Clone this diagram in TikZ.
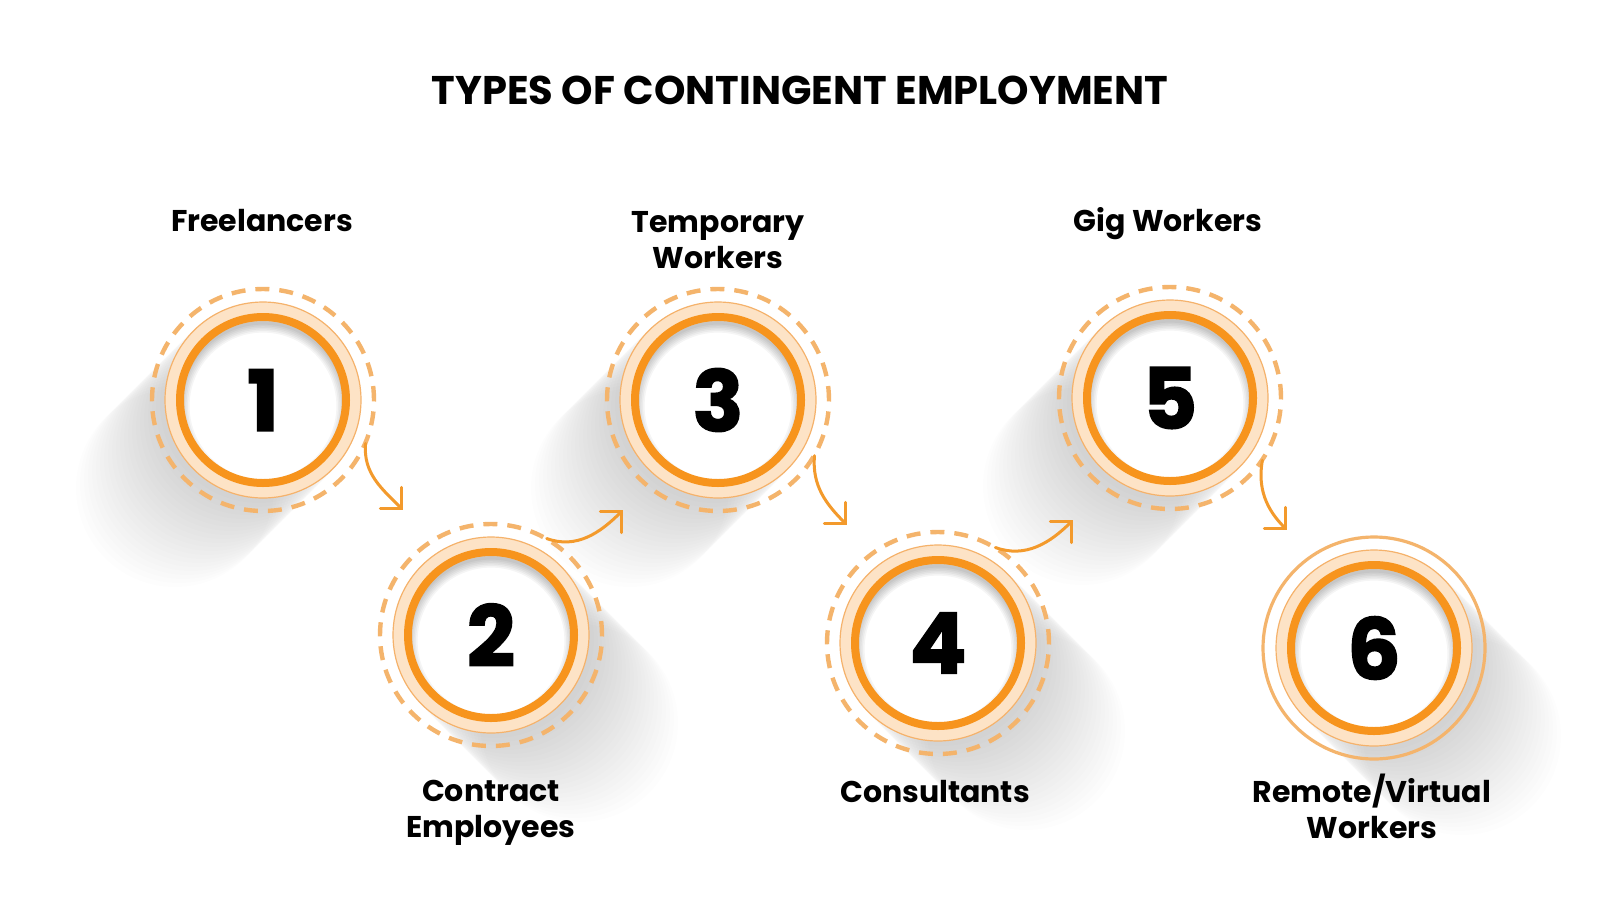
\documentclass[tikz,border=0pt]{standalone}
\usepackage{fontspec}
\setmainfont{Poppins}
\newfontfamily\numFont[BoldFeatures={FakeBold=2}]{Poppins}
\usetikzlibrary{positioning,arrows.meta}
\definecolor{ringOrange}{HTML}{F7941D}
\definecolor{bandPeach}{HTML}{FDE3C6}
\definecolor{bandEdge}{HTML}{F5B26B}
\definecolor{dashOrange}{HTML}{F4B46C}
\definecolor{arrowOrange}{HTML}{F39A2C}
\tikzstyle{pixels} = [x=0.5pt, y=0.5pt]
\tikzstyle{ringLine} = [draw=ringOrange, line width=4pt]
\tikzstyle{bandFill} = [fill=bandPeach, draw=bandEdge, line width=0.6pt]
\tikzstyle{dashRing} = [draw=dashOrange, line width=2.2pt, dash pattern=on 7pt off 5pt]
\tikzstyle{solidRing} = [draw=dashOrange, line width=1.6pt]
\tikzstyle{longShadow} = [fill=black, opacity=0.0065]
\tikzstyle{numberNode} = [circle, minimum size=111pt, inner sep=0pt, font=\numFont\bfseries\fontsize{42}{42}\selectfont]
\tikzstyle{labelText} = [align=center, font=\bfseries\fontsize{15}{18}\selectfont]
\tikzstyle{titleText} = [font=\bfseries\fontsize{20}{24}\selectfont]
\tikzstyle{flowArrow} = [draw=arrowOrange, line width=1.5pt, line cap=round, -{Straight Barb[length=7.5pt, width=15pt, line cap=round]}]
\newcommand{\circleShadow}[3]{
  \foreach \k in {1,...,22} {
    \fill[longShadow] (#1 + #3*\k*4, #2 - \k*4) circle (99);
  }
}
\newcommand{\stepCircle}[5]{
  \filldraw[bandFill] (#2,#3) circle (98);
  \fill[white] (#2,#3) circle (83);
  \begin{scope}
    \clip (#2,#3) circle (83);
    \foreach \w in {1,...,6} {
      \draw[black, opacity=0.04, line width=\w*1.6pt] (#2,#3-6) circle (83);
    }
  \end{scope}
  \draw[ringLine] (#2,#3) circle (83);
  \draw[#5] (#2,#3) circle (111);
  \node[numberNode] (#1) at (#2,#3) {#4};
}

\begin{document}
\begin{tikzpicture}[pixels]
  \fill[white] (0,0) rectangle (1600,-900);
  \useasboundingbox (0,0) rectangle (1600,-900);

  \foreach \cx/\cy/\dx in {263/-400/-1, 491/-635/1, 718/-400/-1, 938/-643/1, 1170/-398/-1, 1374/-648/1} {
    \circleShadow{\cx}{\cy}{\dx}
  }

  \stepCircle{c1}{263}{-400}{1}{dashRing}
  \stepCircle{c2}{491}{-635}{2}{dashRing}
  \stepCircle{c3}{718}{-400}{3}{dashRing}
  \stepCircle{c4}{938}{-643}{4}{dashRing}
  \stepCircle{c5}{1170}{-398}{5}{dashRing}
  \stepCircle{c6}{1374}{-648}{6}{solidRing}

  \coordinate (t12) at (403,-510);
  \coordinate (t23) at (623,-510);
  \coordinate (t34) at (847,-525);
  \coordinate (t45) at (1073,-520);
  \coordinate (t56) at (1287,-530);
  \draw[flowArrow] (c1.-23) to[out=-95, in=135] (t12);
  \draw[flowArrow] (c2.60) to[out=-20, in=225] (t23);
  \draw[flowArrow] (c3.-30) to[out=-95, in=135] (t34);
  \draw[flowArrow] (c4.59) to[out=-20, in=225] (t45);
  \draw[flowArrow] (c5.-34) to[out=-100, in=135] (t56);

  \node[titleText] (title) at (800,-90) {TYPES OF CONTINGENT EMPLOYMENT};
  \node[labelText] (l1) at (262,-221) {Freelancers};
  \node[labelText] (l3) at (718,-240) {Temporary\\Workers};
  \node[labelText] (l5) at (1168,-224) {Gig Workers};
  \node[labelText] (l2) at (491,-813) {Contract\\Employees};
  \node[labelText] (l4) at (935,-792) {Consultants};
  \node[labelText] (l6) at (1372,-806) {Remote/Virtual\\Workers};
\end{tikzpicture}
\end{document}
